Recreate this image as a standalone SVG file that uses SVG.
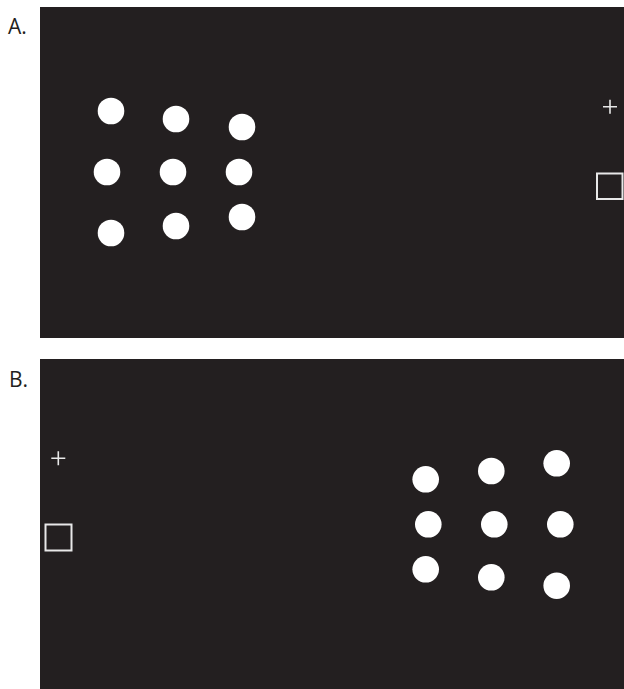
<svg xmlns="http://www.w3.org/2000/svg" width="624" height="689" viewBox="0 0 624 689">
<style>
.panel{fill:#231f20}
.dot{fill:#ffffff}
.lbl{font-family:"Open Sans","Liberation Sans",sans-serif;font-size:21px;fill:#231f20}
.fix{stroke:#e8e8e8;stroke-width:1.6;fill:none}
.box{stroke:#e8e8e8;stroke-width:2;fill:none}
</style>
<rect width="624" height="689" fill="#ffffff"/>
<g id="panelA">
<rect class="panel" x="40" y="7" width="584" height="331"/>
<text class="lbl" x="8" y="34">A.</text>
<circle class="dot" cx="111" cy="111" r="13.3"/>
<circle class="dot" cx="176" cy="119" r="13.3"/>
<circle class="dot" cx="242" cy="127" r="13.3"/>
<circle class="dot" cx="107" cy="172" r="13.3"/>
<circle class="dot" cx="173" cy="172" r="13.3"/>
<circle class="dot" cx="239" cy="172" r="13.3"/>
<circle class="dot" cx="111" cy="233" r="13.3"/>
<circle class="dot" cx="176" cy="226" r="13.3"/>
<circle class="dot" cx="242" cy="217" r="13.3"/>
<path class="fix" d="M603 106.7H617M610 99.7V113.7"/>
<rect class="box" x="597" y="173.5" width="25.5" height="25.5"/>
</g>
<g id="panelB">
<rect class="panel" x="40" y="359" width="584" height="330"/>
<text class="lbl" x="9" y="386.5">B.</text>
<circle class="dot" cx="425.7" cy="479.3" r="13.3"/>
<circle class="dot" cx="491.3" cy="471" r="13.3"/>
<circle class="dot" cx="556.7" cy="463.3" r="13.3"/>
<circle class="dot" cx="428.3" cy="524.3" r="13.3"/>
<circle class="dot" cx="494.3" cy="524.3" r="13.3"/>
<circle class="dot" cx="560.3" cy="524.3" r="13.3"/>
<circle class="dot" cx="425.7" cy="569.3" r="13.3"/>
<circle class="dot" cx="491.3" cy="577.3" r="13.3"/>
<circle class="dot" cx="556.7" cy="585.7" r="13.3"/>
<path class="fix" d="M51.3 458.3H65.3M58.3 451.3V465.3"/>
<rect class="box" x="45.5" y="524.5" width="26" height="26"/>
</g>
</svg>
